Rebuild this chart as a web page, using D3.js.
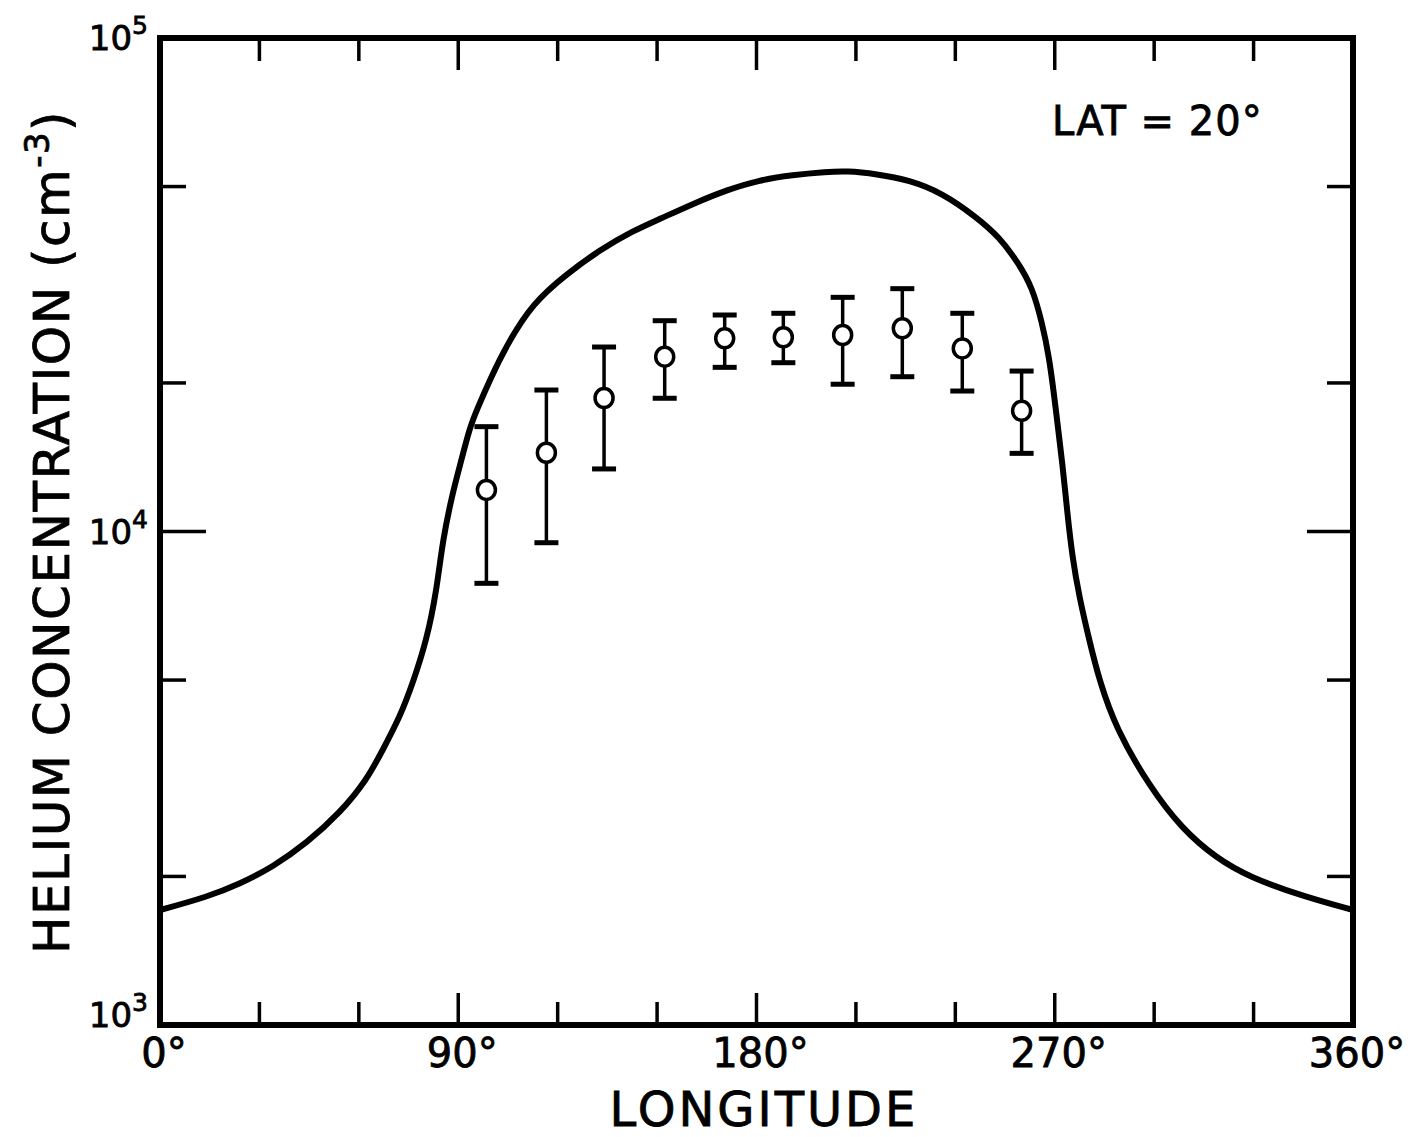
<html>
<head>
  <script src="https://d3js.org/d3.v7.min.js"></script>
  <style>
    body { margin: 0; background: #fff; }
    text { font-family: "DejaVu Sans", sans-serif; fill: #000; stroke: #000; stroke-width: 0.8px; }
  </style>
</head>
<body>
  <svg id="chart" width="1414" height="1137"></svg>
  <script>
    // model curve, longitude (deg) vs helium concentration (cm^-3)
    const curveLon = [0, 14.2, 24.1, 34.1, 44.3, 54.3, 62.4, 67.2, 72.4, 76.3, 80.5, 83.5, 85.3, 88.3, 90.4, 93.5, 95.6, 99.5, 104.6, 112.5, 122.7, 132.7, 142.6, 150.8, 160.7, 171, 180.9, 190.9, 201.1, 207.1, 216.2, 226.1, 236.1, 246.3, 253.3, 259, 263.2, 266.2, 268.3, 269.8, 270.8, 272.3, 273.8, 275.3, 277.4, 280.4, 283.4, 288.5, 298.5, 308.4, 318.7, 328.6, 344.6, 360];
    const curveVal = [1710, 1817, 1931, 2091, 2338, 2690, 3137, 3608, 4209, 4932, 6027, 7611, 9612, 11970, 13510, 16280, 17630, 20280, 23870, 29040, 33250, 37190, 40630, 42980, 46100, 49210, 51560, 52780, 53530, 53780, 53030, 51560, 48520, 43390, 39510, 35000, 31290, 26460, 22570, 18910, 16590, 13770, 10900, 8878, 7367, 6027, 5003, 3980, 3050, 2496, 2180, 1995, 1826, 1710];

    // measured points with error bars
    const obsLon = [98.5, 116.6, 134, 152.3, 170.4, 188.1, 206, 224, 242.1, 260];
    const obsVal = [12140, 14440, 18640, 22610, 24630, 24750, 25010, 25810, 23500, 17570];
    const obsHigh = [16310, 19350, 23650, 26740, 27460, 27680, 29820, 31050, 27680, 21140];
    const obsLow = [7852, 9490, 13390, 18620, 21510, 21980, 19880, 20590, 19260, 14400];

    const xTickLabels = ["0°", "90°", "180°", "270°", "360°"];
    const yTickLabels = [["10", "3"], ["10", "4"], ["10", "5"]];

    const svg = d3.select("svg#chart");
    const margin = { top: 38, right: 61, bottom: 112, left: 160 };
    const chartWidth = 1414 - margin.left - margin.right;
    const chartHeight = 1137 - margin.top - margin.bottom;

    const xScale = d3.scaleLinear().domain([0, 360]).range([0, chartWidth]);
    const yScale = d3.scaleLog().domain([1e3, 1e5]).range([chartHeight, 0]);

    const g = svg.append("g").attr("transform", `translate(${margin.left},${margin.top})`);

    // frame
    g.append("rect")
      .attr("width", chartWidth).attr("height", chartHeight)
      .attr("fill", "none").attr("stroke", "#000").attr("stroke-width", 6);

    // inward ticks on all four sides
    const xTicks = d3.range(30, 360, 30);
    const yTicks = [2e3, 5e3, 1e4, 2e4, 5e4];
    const xTickLen = d => (d % 90 === 0 ? 32 : 23);
    const yTickLen = d => (d === 1e4 ? 46 : 26);

    g.selectAll(".xb").data(xTicks).enter().append("line")
      .attr("x1", d => xScale(d)).attr("x2", d => xScale(d))
      .attr("y1", chartHeight).attr("y2", d => chartHeight - xTickLen(d))
      .attr("stroke", "#000").attr("stroke-width", 3.5);
    g.selectAll(".xt").data(xTicks).enter().append("line")
      .attr("x1", d => xScale(d)).attr("x2", d => xScale(d))
      .attr("y1", 0).attr("y2", d => xTickLen(d))
      .attr("stroke", "#000").attr("stroke-width", 3.5);
    g.selectAll(".yl").data(yTicks).enter().append("line")
      .attr("x1", 0).attr("x2", d => yTickLen(d))
      .attr("y1", d => yScale(d)).attr("y2", d => yScale(d))
      .attr("stroke", "#000").attr("stroke-width", 3.5);
    g.selectAll(".yr").data(yTicks).enter().append("line")
      .attr("x1", chartWidth).attr("x2", d => chartWidth - yTickLen(d))
      .attr("y1", d => yScale(d)).attr("y2", d => yScale(d))
      .attr("stroke", "#000").attr("stroke-width", 3.5);

    // x tick labels
    g.selectAll(".xlab").data(xTickLabels).enter().append("text")
      .attr("x", (d, i) => xScale(i * 90) + 4)
      .attr("y", chartHeight + 42)
      .attr("text-anchor", "middle")
      .style("font-size", "40px")
      .text(d => d);

    // y tick labels (powers of ten)
    const ylab = g.selectAll(".ylab").data(yTickLabels).enter().append("text")
      .attr("x", -12)
      .attr("y", (d, i) => yScale(Math.pow(10, 3 + i)) + (i === 0 ? 2 : 12))
      .attr("text-anchor", "end")
      .style("font-size", "34px");
    ylab.append("tspan").text(d => d[0]);
    ylab.append("tspan").attr("dy", -16).style("font-size", "25px").text(d => d[1]);

    // model curve
    const curve = curveLon.map((d, i) => [d, curveVal[i]]);
    g.append("path")
      .datum(curve)
      .attr("fill", "none").attr("stroke", "#000").attr("stroke-width", 6)
      .attr("stroke-linejoin", "round")
      .attr("d", d3.line().x(d => xScale(d[0])).y(d => yScale(d[1])).curve(d3.curveBasis));

    // error bars
    const obs = obsLon.map((d, i) => ({ lon: d, v: obsVal[i], hi: obsHigh[i], lo: obsLow[i] }));
    const pts = g.selectAll(".obs").data(obs).enter().append("g");
    pts.append("line")
      .attr("x1", d => xScale(d.lon)).attr("x2", d => xScale(d.lon))
      .attr("y1", d => yScale(d.hi)).attr("y2", d => yScale(d.lo))
      .attr("stroke", "#000").attr("stroke-width", 3.5);
    pts.append("line")
      .attr("x1", d => xScale(d.lon) - 12).attr("x2", d => xScale(d.lon) + 12)
      .attr("y1", d => yScale(d.hi)).attr("y2", d => yScale(d.hi))
      .attr("stroke", "#000").attr("stroke-width", 5);
    pts.append("line")
      .attr("x1", d => xScale(d.lon) - 12).attr("x2", d => xScale(d.lon) + 12)
      .attr("y1", d => yScale(d.lo)).attr("y2", d => yScale(d.lo))
      .attr("stroke", "#000").attr("stroke-width", 5);
    pts.append("ellipse")
      .attr("cx", d => xScale(d.lon)).attr("cy", d => yScale(d.v))
      .attr("rx", 9).attr("ry", 9.5)
      .attr("fill", "#fff").attr("stroke", "#000").attr("stroke-width", 3.5);

    // annotation
    g.append("text")
      .attr("x", 1052 - margin.left).attr("y", 135 - margin.top)
      .style("font-size", "40px")
      .style("letter-spacing", "1px")
      .text("LAT = 20°");

    // axis titles
    svg.append("text")
      .attr("x", 764)
      .attr("y", 1126)
      .attr("text-anchor", "middle")
      .style("font-size", "48px")
      .style("letter-spacing", "3px")
      .text("LONGITUDE");

    const yTitle = svg.append("text")
      .attr("transform", "translate(69,532) rotate(-90)")
      .attr("text-anchor", "middle")
      .style("font-size", "50px")
      .style("letter-spacing", "1.5px");
    yTitle.append("tspan").text("HELIUM CONCENTRATION (cm");
    yTitle.append("tspan").attr("dy", -20).style("font-size", "34px").text("-3");
    yTitle.append("tspan").attr("dy", 20).text(")");
  </script>
</body>
</html>
